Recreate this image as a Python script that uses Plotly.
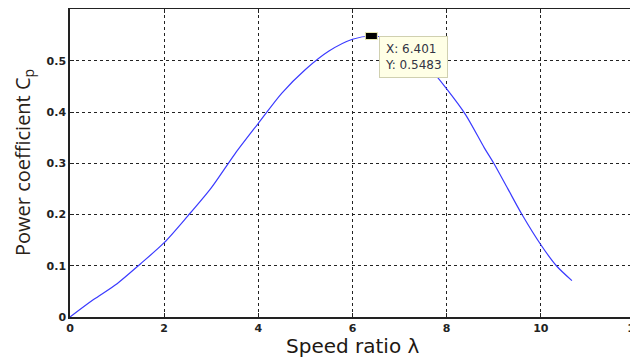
import plotly.graph_objects as go

speed_ratio = [0, 0.5, 1.0, 1.5, 2.0, 2.5, 3.0, 3.5, 4.0, 4.5, 5.0, 5.5, 6.0, 6.401,
               6.8, 7.2, 7.6, 8.0, 8.4, 8.8, 9.0, 9.3, 9.6, 10.0, 10.33, 10.66]
power_coeff = [0, 0.034, 0.065, 0.104, 0.145, 0.197, 0.252, 0.318, 0.378, 0.437, 0.483,
               0.519, 0.542, 0.5483, 0.543, 0.525, 0.49, 0.445, 0.395, 0.33, 0.30, 0.25,
               0.20, 0.141, 0.10, 0.071]
peak_x = 6.401
peak_y = 0.5483
x_ticks = [0, 2, 4, 6, 8, 10, 12]
y_ticks = [0, 0.1, 0.2, 0.3, 0.4, 0.5]
y_tick_text = ["0", "0.1", "0.2", "0.3", "0.4", "0.5"]

fig = go.Figure()
fig.add_trace(go.Scatter(x=speed_ratio, y=power_coeff, mode="lines",
                         line=dict(color="#3a3aff", width=1.2, shape="spline", smoothing=0.8),
                         hoverinfo="skip"))

# datatip marker
fig.add_shape(type="rect", xref="x", yref="y", xsizemode="pixel", ysizemode="pixel",
              xanchor=peak_x, yanchor=peak_y, x0=-6, x1=6, y0=-3.5, y1=3.5,
              fillcolor="black", line=dict(color="#e8e8b0", width=1))

fig.add_annotation(x=peak_x, y=peak_y, xref="x", yref="y",
                   text="X: 6.401<br>Y: 0.5483", align="left",
                   showarrow=True, arrowcolor="rgba(0,0,0,0)", ax=42, ay=21,
                   bgcolor="#ffffe6", bordercolor="#d0d0b0", borderwidth=1, borderpad=5,
                   font=dict(family="DejaVu Sans", size=12, color="#333344"))

fig.add_annotation(xref="paper", yref="paper", x=0, y=0.5, xshift=-47,
                   xanchor="center", yanchor="middle",
                   text="Power coefficient C<sub>p</sub>", textangle=-90, showarrow=False,
                   font=dict(family="Open Sans", size=20, color="#2a2218"))
fig.add_annotation(xref="paper", yref="paper", x=0.5, y=0, yshift=-29,
                   xanchor="center", yanchor="middle",
                   text="Speed ratio λ", showarrow=False,
                   font=dict(family="DejaVu Sans", size=20, color="#1e1812"))

grid = dict(showgrid=True, gridcolor="#222222", gridwidth=1, griddash="3px,3px",
            showline=True, linecolor="#222222", linewidth=1.5, mirror="ticks",
            ticks="inside", ticklen=4, tickcolor="#222222", zeroline=False,
            automargin=False,
            tickfont=dict(family="DejaVu Sans", size=11, color="#222222", weight="bold"))

fig.update_xaxes(range=[0, 12], tickvals=x_ticks, ticktext=[str(v) for v in x_ticks], **grid)
fig.update_yaxes(range=[0, 0.601], tickvals=y_ticks, ticktext=y_tick_text, **grid)

# page body has an 8px margin, so plot-area margins are offset to land at the reference pixels
fig.update_layout(width=638, height=358, margin=dict(l=62, r=11, t=1, b=49, autoexpand=False),
                  paper_bgcolor="white", plot_bgcolor="white", showlegend=False)

fig.write_html("out.html")
